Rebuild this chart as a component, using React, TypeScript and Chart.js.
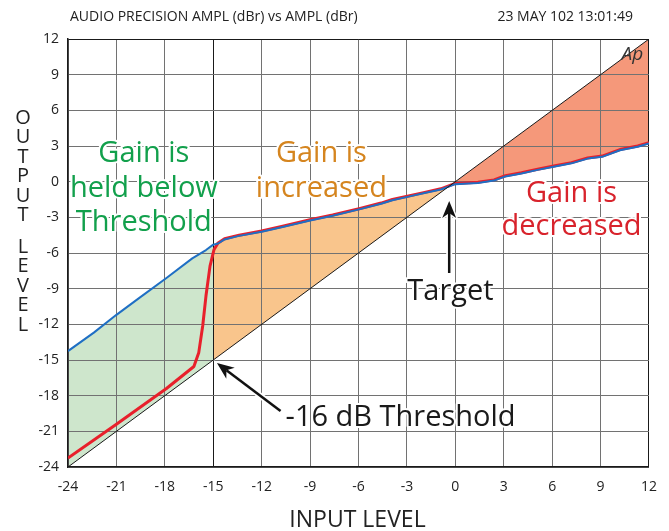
import React, { useEffect, useRef } from "react";
import { Chart, registerables } from "chart.js";

Chart.register(...registerables);

// ---- data (dB) ----
const X_MIN = -24;
const X_MAX = 12;
const TICK_STEP = 3;

// reference line: output = input
const diagIn = [-24, 12];
const diagOut = [-24, 12];

// blue trace (held below threshold, then merges with red)
const blueIn = [-24, -22.4, -21, -19.6, -17.9, -16.3, -15.45, -15, -14.7, -14.3, -13.4, -12, -10.7, -9, -7.6, -5.9, -4.6, -3.9, -2.9, -1.9, -0.9, 0, 1.4, 2.4, 3.1, 4.1, 5.1, 6.1, 7.2, 8.2, 9.1, 10.2, 11.3, 12];
const blueOut = [-14.25, -12.7, -11.2, -9.8, -8.1, -6.45, -5.75, -5.3, -5.2, -4.86, -4.56, -4.21, -3.81, -3.26, -2.86, -2.31, -1.86, -1.56, -1.26, -0.96, -0.66, -0.21, -0.11, 0.09, 0.44, 0.69, 0.99, 1.26, 1.54, 1.94, 2.09, 2.64, 2.94, 3.21];

// red trace (-16 dB threshold)
const redIn = [-24, -21, -17.9, -16.2, -15.9, -15.65, -15.45, -15.2, -14.95, -14.7, -14.3, -13.4, -12, -10.7, -9, -7.6, -5.9, -4.6, -3.9, -2.9, -1.9, -0.9, 0, 1.4, 2.4, 3.1, 4.1, 5.1, 6.1, 7.2, 8.2, 9.1, 10.2, 11.3, 12];
const redOut = [-23.25, -20.4, -17.4, -15.55, -14.4, -12.1, -9.6, -7.1, -5.7, -5.15, -4.8, -4.5, -4.15, -3.75, -3.2, -2.8, -2.25, -1.8, -1.5, -1.2, -0.9, -0.6, -0.15, -0.05, 0.15, 0.5, 0.75, 1.05, 1.32, 1.6, 2.0, 2.15, 2.7, 3.0, 3.27];

const THRESHOLD_X = -15; // boundary between the green and orange regions

const titleText = "AUDIO PRECISION AMPL (dBr) vs AMPL (dBr)";
const dateText = "23 MAY 102 13:01:49";
const xTitle = "INPUT LEVEL";
const yTitleWords = ["OUTPUT", "LEVEL"];

const FONT = "'Open Sans', 'Noto Sans', sans-serif";

const toPts = (xs: number[], ys: number[]) => xs.map((x, i) => ({ x, y: ys[i] }));

function drawHaloText(ctx: CanvasRenderingContext2D, text: string, x: number, y: number, color: string, align: CanvasTextAlign = "center") {
  ctx.textAlign = align;
  ctx.textBaseline = "alphabetic";
  ctx.lineJoin = "round";
  ctx.strokeStyle = "#ffffff";
  ctx.lineWidth = 4;
  ctx.strokeText(text, x, y);
  ctx.fillStyle = color;
  ctx.fillText(text, x, y);
}

function drawArrow(ctx: CanvasRenderingContext2D, x1: number, y1: number, x2: number, y2: number) {
  const ang = Math.atan2(y2 - y1, x2 - x1);
  const ux = Math.cos(ang), uy = Math.sin(ang);
  const px = -uy, py = ux;
  const headLen = 17, headW = 7;
  const bx = x2 - ux * headLen, by = y2 - uy * headLen;
  const nx = x2 - ux * headLen * 0.7, ny = y2 - uy * headLen * 0.7;
  const head = () => {
    ctx.beginPath();
    ctx.moveTo(x2, y2);
    ctx.lineTo(bx + px * headW, by + py * headW);
    ctx.lineTo(nx, ny);
    ctx.lineTo(bx - px * headW, by - py * headW);
    ctx.closePath();
  };
  ctx.save();
  ctx.lineCap = "butt";
  ctx.lineJoin = "miter";
  ctx.strokeStyle = "#ffffff";
  ctx.lineWidth = 6;
  ctx.beginPath();
  ctx.moveTo(x1, y1);
  ctx.lineTo(nx, ny);
  ctx.stroke();
  head();
  ctx.lineWidth = 3;
  ctx.stroke();
  ctx.strokeStyle = "#111111";
  ctx.fillStyle = "#111111";
  ctx.lineWidth = 2.5;
  ctx.beginPath();
  ctx.moveTo(x1, y1);
  ctx.lineTo(nx, ny);
  ctx.stroke();
  head();
  ctx.fill();
  ctx.restore();
}

const annotationPlugin = {
  id: "annotations",
  afterDraw(chart: any) {
    const { ctx, scales } = chart;
    const xs = scales.x, ys = scales.y;
    const X = (v: number) => xs.getPixelForValue(v);
    const Y = (v: number) => ys.getPixelForValue(v);
    ctx.save();

    // header texts
    ctx.font = `14px ${FONT}`;
    ctx.fillStyle = "#222";
    ctx.textBaseline = "alphabetic";
    ctx.textAlign = "left";
    ctx.fillText(titleText, 70, 21, 290);
    ctx.textAlign = "right";
    ctx.fillText(dateText, 633, 21, 138);

    // axis titles
    ctx.fillStyle = "#222";
    ctx.font = `23px ${FONT}`;
    ctx.textAlign = "center";
    ctx.fillText(xTitle, (xs.left + xs.right) / 2 - 1, 527, 142);

    ctx.font = `20px ${FONT}`;
    ctx.textBaseline = "middle";
    let yy = 118;
    yTitleWords.forEach((w, wi) => {
      for (const ch of w) {
        ctx.fillText(ch, 23, yy);
        yy += 19.5;
      }
      if (wi === 0) yy += 12;
    });

    // region labels
    ctx.font = `29px ${FONT}`;
    const green = "#12a04c";
    drawHaloText(ctx, "Gain is", X(-19.3), Y(1.65), green);
    drawHaloText(ctx, "held below", X(-19.3), Y(-1.29), green);
    drawHaloText(ctx, "Threshold", X(-19.3), Y(-4.15), green);

    const orange = "#d5851f";
    drawHaloText(ctx, "Gain is", X(-8.3), Y(1.65), orange);
    drawHaloText(ctx, "increased", X(-8.3), Y(-1.29), orange);

    const red = "#d8232c";
    drawHaloText(ctx, "Gain is", X(7.2), Y(-1.71), red);
    drawHaloText(ctx, "decreased", X(7.2), Y(-4.49), red);

    drawHaloText(ctx, "Target", X(-0.3), Y(-9.95), "#1a1a1a");
    drawHaloText(ctx, "-16 dB Threshold", X(-10.52), Y(-20.55), "#1a1a1a", "left");

    drawArrow(ctx, X(-0.38), Y(-7.68), X(-0.38), Y(-1.63));
    drawArrow(ctx, X(-10.83), Y(-19.29), X(-14.77), Y(-15.25));

    // Ap logo
    ctx.font = `italic 19px ${FONT}`;
    ctx.fillStyle = "#333";
    ctx.textAlign = "left";
    ctx.textBaseline = "alphabetic";
    ctx.fillText("Ap", X(10.3), Y(10.2));

    ctx.restore();
  },
};

export default function App() {
  const canvasRef = useRef<HTMLCanvasElement | null>(null);

  useEffect(() => {
    document.body.style.margin = "0";
    const canvas = canvasRef.current;
    if (!canvas) return;

    const bluePts = toPts(blueIn, blueOut);
    const redPts = toPts(redIn, redOut);
    const diagPts = toPts(diagIn, diagOut);

    const greenSrc = bluePts.filter((p) => p.x <= THRESHOLD_X);
    const orangeSrc = [
      ...bluePts.filter((p) => p.x === THRESHOLD_X),
      ...redPts.filter((p) => p.x > THRESHOLD_X && p.x <= 0),
    ];
    const salmonSrc = redPts.filter((p) => p.x >= 0);

    const fillBase = {
      type: "line" as const,
      pointRadius: 0,
      borderWidth: 0,
      borderColor: "transparent",
      tension: 0,
    };

    const chart = new Chart(canvas, {
      type: "line",
      data: {
        datasets: [
          { ...fillBase, label: "green", data: greenSrc, fill: { target: 3 }, backgroundColor: "rgb(206,230,204)" },
          { ...fillBase, label: "orange", data: orangeSrc, fill: { target: 3 }, backgroundColor: "rgb(249,197,140)" },
          { ...fillBase, label: "salmon", data: salmonSrc, fill: { target: 3 }, backgroundColor: "rgb(245,152,122)" },
          { type: "line", label: "diag", data: diagPts, borderColor: "#1a1a1a", borderWidth: 1, pointRadius: 0, fill: false },
          { type: "line", label: "blue", data: bluePts, borderColor: "#1f6fc4", borderWidth: 2, pointRadius: 0, fill: false, tension: 0, borderJoinStyle: "round" },
          { type: "line", label: "red", data: redPts, borderColor: "#e8202b", borderWidth: 3, pointRadius: 0, fill: false, tension: 0, borderJoinStyle: "round" },
        ],
      },
      options: {
        animation: false,
        responsive: false,
        devicePixelRatio: 1,
        parsing: false,
        normalized: true,
        layout: { padding: { top: 39, right: 16, left: 0, bottom: 0 } },
        plugins: {
          legend: { display: false },
          tooltip: { enabled: false },
          title: { display: false },
          filler: { drawTime: "beforeDraw", propagate: false },
        },
        scales: {
          x: {
            type: "linear",
            min: X_MIN,
            max: X_MAX,
            afterFit: (s: any) => { s.height = 64; },
            afterBuildTicks: (s: any) => {
              const t = [];
              for (let v = X_MIN; v <= X_MAX; v += TICK_STEP) t.push({ value: v });
              s.ticks = t;
            },
            ticks: {
              stepSize: TICK_STEP,
              color: "#222",
              font: { family: FONT, size: 14 },
              padding: 12,
              maxRotation: 0,
              autoSkip: false,
              callback: (v: any) => String(v),
            },
            grid: {
              drawTicks: false,
              lineWidth: 1,
              color: (c: any) => (c.tick && (c.tick.value === THRESHOLD_X || c.tick.value === X_MAX) ? "#1a1a1a" : "#727272"),
            },
            border: { color: "#1a1a1a", width: 1.5 },
          },
          y: {
            type: "linear",
            min: X_MIN,
            max: X_MAX,
            afterFit: (s: any) => { s.width = 68; },
            afterBuildTicks: (s: any) => {
              const t = [];
              for (let v = X_MIN; v <= X_MAX; v += TICK_STEP) t.push({ value: v });
              s.ticks = t;
            },
            ticks: {
              stepSize: TICK_STEP,
              color: "#222",
              font: { family: FONT, size: 14 },
              padding: 9,
              autoSkip: false,
              callback: (v: any) => String(v),
            },
            grid: {
              drawTicks: false,
              lineWidth: 1,
              color: (c: any) => (c.tick && c.tick.value === X_MAX ? "#1a1a1a" : "#727272"),
            },
            border: { color: "#1a1a1a", width: 1.5 },
          },
        },
      },
      plugins: [annotationPlugin],
    } as any);

    return () => chart.destroy();
  }, []);

  return (
    <div style={{ width: 669, height: 531, background: "#fff" }}>
      <canvas ref={canvasRef} width={669} height={531} style={{ display: "block" }} />
    </div>
  );
}
